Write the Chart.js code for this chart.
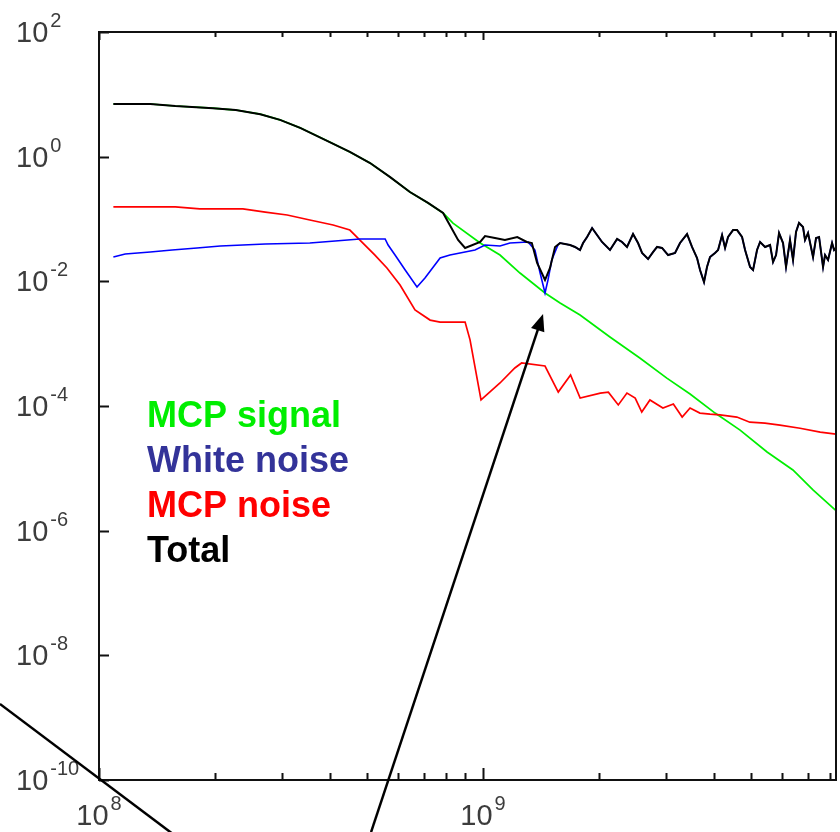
<!DOCTYPE html>
<html>
<head>
<meta charset="utf-8">
<title>MCP spectrum</title>
<script src="https://cdn.jsdelivr.net/npm/chart.js@4.4.1/dist/chart.umd.min.js"></script>
<style>
  html, body { margin: 0; padding: 0; background: #fff; }
  #wrap { width: 840px; height: 832px; }
</style>
</head>
<body>
<div id="wrap"><canvas id="myChart" width="840" height="832"></canvas></div>
<script>
// frequency (Hz) and power for each trace
const signalFreq = [1.09e8, 1.36e8, 1.58e8, 1.98e8, 2.27e8, 2.63e8, 2.96e8, 3.34e8, 4.0e8, 4.5e8, 5.08e8, 5.73e8, 6.45e8, 7.19e8, 7.87e8, 8.35e8, 9.83e8, 1.107e9, 1.248e9, 1.45e9, 1.587e9, 1.789e9, 2.14e9, 2.56e9, 3.01e9, 3.46e9, 4.02e9, 4.67e9, 5.49e9, 6.41e9, 7.23e9, 8.30e9];
const signalVal = [7.0, 7.0, 6.5, 6.0, 5.6, 4.8, 3.9, 2.9, 1.7, 1.19, 0.79, 0.47, 0.271, 0.181, 0.125, 0.086, 0.0412, 0.0264, 0.0136, 0.0065, 0.00449, 0.00288, 0.00128, 5.9e-4, 2.8e-4, 1.56e-4, 7.7e-5, 4.1e-5, 1.83e-5, 9.4e-6, 4.5e-6, 2.1e-6];

const mcpNoiseFreq = [1.09e8, 1.58e8, 1.83e8, 2.37e8, 2.71e8, 3.09e8, 3.54e8, 4.07e8, 4.5e8, 4.78e8, 5.23e8, 5.62e8, 6.08e8, 6.65e8, 7.28e8, 7.73e8, 8.98e8, 9.25e8, 9.88e8, 1.107e9, 1.21e9, 1.26e9, 1.45e9, 1.57e9, 1.69e9, 1.79e9, 2.02e9, 2.12e9, 2.25e9, 2.37e9, 2.49e9, 2.59e9, 2.72e9, 2.94e9, 3.13e9, 3.30e9, 3.46e9, 3.67e9, 3.90e9, 4.14e9, 4.58e9, 4.95e9, 5.42e9, 5.93e9, 6.69e9, 7.55e9, 8.30e9];
const mcpNoiseVal = [0.156, 0.156, 0.145, 0.145, 0.129, 0.116, 0.0963, 0.0802, 0.0665, 0.046, 0.0264, 0.0164, 0.00873, 0.00347, 0.00239, 0.00222, 0.00222, 0.00115, 1.25e-4, 2.34e-4, 4.07e-4, 4.9e-4, 4.38e-4, 1.67e-4, 3.14e-4, 1.34e-4, 1.61e-4, 1.67e-4, 1.04e-4, 1.61e-4, 1.34e-4, 8.0e-5, 1.25e-4, 9.3e-5, 1.08e-4, 6.65e-5, 9.3e-5, 7.7e-5, 7.4e-5, 7.2e-5, 6.65e-5, 5.5e-5, 5.3e-5, 4.95e-5, 4.4e-5, 3.8e-5, 3.55e-5];

const whiteFreq = [1.09e8, 1.17e8, 1.36e8, 1.55e8, 1.80e8, 2.07e8, 2.71e8, 3.54e8, 4.12e8, 4.78e8, 5.56e8, 5.66e8, 5.90e8, 6.27e8, 6.73e8, 7.06e8, 7.73e8, 8.20e8, 8.71e8, 9.53e8, 1.012e9, 1.107e9, 1.175e9, 1.31e9, 1.365e9, 1.406e9, 1.45e9, 1.476e9, 1.51e9, 1.567e9];
const whiteVal = [0.0245, 0.0274, 0.0295, 0.0318, 0.0343, 0.0369, 0.0397, 0.0412, 0.0444, 0.0478, 0.0478, 0.0383, 0.0264, 0.0152, 0.0081, 0.0113, 0.0237, 0.0264, 0.0285, 0.0318, 0.0383, 0.0369, 0.0412, 0.0428, 0.0318, 0.0141, 0.0065, 0.0105, 0.0220, 0.0383];

const totalFreq = [1.09e8, 1.36e8, 1.58e8, 1.98e8, 2.27e8, 2.63e8, 2.96e8, 3.34e8, 4.0e8, 4.5e8, 5.08e8, 5.73e8, 6.45e8, 7.19e8, 7.87e8, 8.11e8, 8.61e8, 8.98e8, 9.83e8, 1.012e9, 1.074e9, 1.14e9, 1.228e9, 1.30e9, 1.34e9, 1.383e9, 1.45e9, 1.494e9, 1.54e9];
const totalVal = [7.0, 7.0, 6.5, 6.0, 5.6, 4.8, 3.9, 2.9, 1.7, 1.19, 0.79, 0.47, 0.271, 0.181, 0.125, 0.0895, 0.046, 0.0343, 0.0428, 0.0533, 0.0495, 0.046, 0.0514, 0.0428, 0.0412, 0.0197, 0.0105, 0.0164, 0.0356];

// above ~1.6 GHz the white noise and the total lie on top of each other
const tailFreq = [1.587e9, 1.685e9, 1.736e9, 1.789e9, 1.822e9, 1.866e9, 1.923e9, 1.981e9, 2.041e9, 2.141e9, 2.234e9, 2.301e9, 2.371e9, 2.458e9, 2.533e9, 2.595e9, 2.690e9, 2.771e9, 2.839e9, 2.925e9, 3.033e9, 3.162e9, 3.258e9, 3.398e9, 3.501e9, 3.608e9, 3.673e9, 3.762e9, 3.830e9, 3.900e9, 4.019e9, 4.093e9, 4.192e9, 4.268e9, 4.345e9, 4.477e9, 4.587e9, 4.726e9, 4.812e9, 4.958e9, 5.048e9, 5.170e9, 5.265e9, 5.425e9, 5.590e9, 5.691e9, 5.794e9, 5.899e9, 6.042e9, 6.151e9, 6.300e9, 6.415e9, 6.531e9, 6.650e9, 6.811e9, 6.893e9, 7.019e9, 7.233e9, 7.364e9, 7.499e9, 7.680e9, 7.773e9, 7.914e9, 8.107e9, 8.205e9, 8.30e9];
const tailVal = [0.0412, 0.0383, 0.0356, 0.0318, 0.0412, 0.0514, 0.0716, 0.0553, 0.0428, 0.0318, 0.0478, 0.0428, 0.0356, 0.0574, 0.0412, 0.0285, 0.0228, 0.0295, 0.0356, 0.0343, 0.0264, 0.0285, 0.0412, 0.0574, 0.0356, 0.0237, 0.0152, 0.00975, 0.0170, 0.0245, 0.0285, 0.0318, 0.0553, 0.0343, 0.0514, 0.0665, 0.0665, 0.0514, 0.0318, 0.0170, 0.0152, 0.0318, 0.0428, 0.0356, 0.0383, 0.0204, 0.0264, 0.0596, 0.0412, 0.0170, 0.0460, 0.0220, 0.0618, 0.0863, 0.0743, 0.0460, 0.0596, 0.0245, 0.0495, 0.0514, 0.0170, 0.0264, 0.0220, 0.0412, 0.0318, 0.0343];

// axes
const xMin = 1e8, xMax = 8.3e9;
const yMin = 1e-10, yMax = 1e2;
const xMajor = [1e8, 1e9];
const xMajorExp = ["8", "9"];
const xMinor = [2e8, 3e8, 4e8, 5e8, 6e8, 7e8, 8e8, 9e8, 2e9, 3e9, 4e9, 5e9, 6e9, 7e9, 8e9];
const yMajor = [1e2, 1e0, 1e-2, 1e-4, 1e-6, 1e-8, 1e-10];
const yMajorExp = ["2", "0", "-2", "-4", "-6", "-8", "-10"];

const legendNames = ["MCP signal", "White noise", "MCP noise", "Total"];
const legendColors = ["#00ee00", "#333399", "#ff0000", "#000000"];

// two annotation arrows, given as [freq, value] end points
const arrows = [
  { from: [5.52e7, 1.66e-9], to: [1.6e8, 1.2e-11], head: false },
  { from: [5.11e8, 1.46e-11], to: [1.433e9, 2.99e-3], head: true }
];

function toPoints(fs, vs) {
  return fs.map((f, i) => ({ x: f, y: vs[i] }));
}

const FONT = '"Liberation Sans", Arial, Helvetica, sans-serif';

function drawPower(ctx, exp, x, baseline, align) {
  ctx.font = "29px " + FONT;
  const w10 = ctx.measureText("10").width;
  ctx.font = "20px " + FONT;
  const wExp = ctx.measureText(exp).width;
  let start = x;
  if (align === "center") start = x - (w10 + 2 + wExp) / 2;
  ctx.textAlign = "left";
  ctx.textBaseline = "alphabetic";
  ctx.font = "29px " + FONT;
  ctx.fillText("10", start, baseline);
  ctx.font = "20px " + FONT;
  ctx.fillText(exp, start + w10 + 2, baseline - 15);
}

const framePlugin = {
  id: "frame",
  afterDraw(chart) {
    const ctx = chart.ctx;
    const area = chart.chartArea;
    const xs = chart.scales.x;
    const ys = chart.scales.y;
    ctx.save();

    // box
    ctx.strokeStyle = "#111";
    ctx.lineWidth = 2;
    ctx.strokeRect(area.left, area.top, area.right - area.left, area.bottom - area.top);

    // inward ticks
    ctx.lineWidth = 2;
    ctx.beginPath();
    xMinor.forEach((v) => {
      const px = Math.round(xs.getPixelForValue(v)) + 0.5;
      ctx.moveTo(px, area.bottom); ctx.lineTo(px, area.bottom - 7);
      ctx.moveTo(px, area.top); ctx.lineTo(px, area.top + 5);
    });
    xMajor.forEach((v) => {
      const px = Math.round(xs.getPixelForValue(v)) + 0.5;
      ctx.moveTo(px, area.bottom); ctx.lineTo(px, area.bottom - 12);
      ctx.moveTo(px, area.top); ctx.lineTo(px, area.top + 8);
    });
    yMajor.forEach((v) => {
      const py = Math.round(ys.getPixelForValue(v)) + 0.5;
      ctx.moveTo(area.left, py); ctx.lineTo(area.left + 10, py);
    });
    ctx.stroke();

    // tick labels
    ctx.fillStyle = "#3c3c3c";
    yMajor.forEach((v, i) => {
      drawPower(ctx, yMajorExp[i], 16, ys.getPixelForValue(v) + 10, "left");
    });
    xMajor.forEach((v, i) => {
      drawPower(ctx, xMajorExp[i], xs.getPixelForValue(v), area.bottom + 45, "center");
    });

    // legend text
    ctx.font = "bold 36px " + FONT;
    ctx.textAlign = "left";
    ctx.textBaseline = "alphabetic";
    legendNames.forEach((name, i) => {
      ctx.fillStyle = legendColors[i];
      ctx.fillText(name, area.left + 48, area.top + 395 + i * 45);
    });

    // arrows
    ctx.strokeStyle = "#000";
    ctx.fillStyle = "#000";
    ctx.lineWidth = 2.5;
    arrows.forEach((a) => {
      const x0 = xs.getPixelForValue(a.from[0]);
      const y0 = ys.getPixelForValue(a.from[1]);
      const x1 = xs.getPixelForValue(a.to[0]);
      const y1 = ys.getPixelForValue(a.to[1]);
      const ang = Math.atan2(y1 - y0, x1 - x0);
      const headLen = a.head ? 17 : 0;
      ctx.beginPath();
      ctx.moveTo(x0, y0);
      ctx.lineTo(x1 - Math.cos(ang) * headLen * 0.8, y1 - Math.sin(ang) * headLen * 0.8);
      ctx.stroke();
      if (a.head) {
        ctx.beginPath();
        ctx.moveTo(x1, y1);
        ctx.lineTo(x1 - headLen * Math.cos(ang) + 7 * Math.sin(ang), y1 - headLen * Math.sin(ang) - 7 * Math.cos(ang));
        ctx.lineTo(x1 - headLen * Math.cos(ang) - 7 * Math.sin(ang), y1 - headLen * Math.sin(ang) + 7 * Math.cos(ang));
        ctx.closePath();
        ctx.fill();
      }
    });
    ctx.restore();
  }
};

const lineStyle = { showLine: true, pointRadius: 0, fill: false, tension: 0 };

const config = {
  type: "scatter",
  data: {
    datasets: [
      Object.assign({ label: "Total", data: toPoints(totalFreq.concat(tailFreq), totalVal.concat(tailVal)), borderColor: "#000000", borderWidth: 2 }, lineStyle),
      Object.assign({ label: "White noise", data: toPoints(whiteFreq.concat(tailFreq), whiteVal.concat(tailVal)), borderColor: "#0000ff", borderWidth: 1.6 }, lineStyle),
      Object.assign({ label: "MCP noise", data: toPoints(mcpNoiseFreq, mcpNoiseVal), borderColor: "#ff0000", borderWidth: 1.7 }, lineStyle),
      Object.assign({ label: "MCP signal", data: toPoints(signalFreq, signalVal), borderColor: "#00ee00", borderWidth: 1.7 }, lineStyle)
    ]
  },
  options: {
    responsive: false,
    animation: false,
    devicePixelRatio: 1,
    layout: { padding: { left: 99, right: 4, top: 32, bottom: 52 } },
    plugins: { legend: { display: false }, tooltip: { enabled: false } },
    scales: {
      x: { type: "logarithmic", min: xMin, max: xMax, display: false },
      y: { type: "logarithmic", min: yMin, max: yMax, display: false }
    }
  },
  plugins: [framePlugin]
};

const myChart = new Chart(document.getElementById("myChart"), config);
</script>
</body>
</html>
